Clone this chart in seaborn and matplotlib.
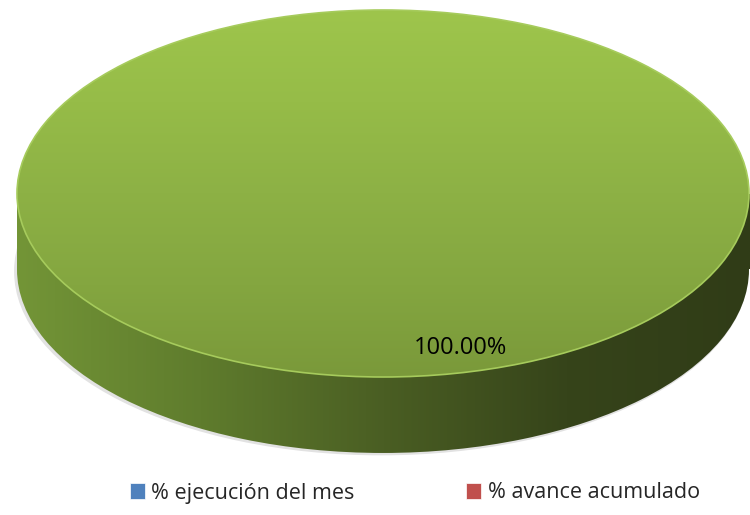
import numpy as np
import matplotlib.pyplot as plt
import seaborn as sns
from matplotlib.colors import LinearSegmentedColormap
from matplotlib.patches import Patch, Rectangle

# Data
labels = ['% ejecución del mes', '% avance acumulado']
values = [0.0, 100.0]
legend_colors = ['#4f81bd', '#c0504d']

sns.set_style('white')
plt.rcParams['font.family'] = ['Open Sans', 'DejaVu Sans']

fig = plt.figure(figsize=(7.5, 5.15), dpi=100)
ax = fig.add_axes([0, 0, 1, 1])

depth = 0.414          # thickness of the 3D disc (in radius units)
start = 104.2          # rotates the label towards lower right like the original

top_cmap = LinearSegmentedColormap.from_list(
    'top', ['#9ec54c', '#96bc48', '#8db145', '#84a640', '#7a993a'])
side_cmap = LinearSegmentedColormap.from_list(
    'side', ['#739537', '#5f7c2d', '#4a5e23', '#36441a', '#303c17'])


def fmt(p):
    return f'{p:.2f}%' if p > 0 else ''


# soft shadow
shadow, _ = ax.pie(values, center=(-0.005, -depth - 0.01), radius=1.003, startangle=start,
                   counterclock=False, colors=['#e2e2e2'] * len(values),
                   wedgeprops=dict(linewidth=0, zorder=0))

# side of the disc
side_wedges, _ = ax.pie(values, center=(0, -depth), startangle=start, counterclock=False,
                        colors=['none'] * len(values), wedgeprops=dict(linewidth=0, zorder=1))
hgrad = np.linspace(0, 1, 256).reshape(1, -1)
for w, v in zip(side_wedges, values):
    if v <= 0:
        continue
    im = ax.imshow(hgrad, cmap=side_cmap, extent=[-1, 1, -1 - depth, 0], aspect='auto', zorder=1)
    im.set_clip_path(w)
    rect = Rectangle((-1, -depth), 2, depth, facecolor='none', linewidth=0)
    ax.add_patch(rect)
    im2 = ax.imshow(hgrad, cmap=side_cmap, extent=[-1, 1, -1 - depth, 0], aspect='auto', zorder=1)
    im2.set_clip_path(rect)

# top face
top_wedges, texts, autotexts = ax.pie(
    values, startangle=start, counterclock=False, colors=['none'] * len(values),
    autopct=fmt, pctdistance=0.867,
    wedgeprops=dict(linewidth=0, zorder=4),
    textprops=dict(fontsize=17, color='black', zorder=5))
vgrad = np.linspace(0, 1, 256).reshape(-1, 1)
for w, v in zip(top_wedges, values):
    if v <= 0:
        continue
    w.set_edgecolor('#a6cb5c')
    w.set_linewidth(1.2)
    im = ax.imshow(vgrad, cmap=top_cmap, extent=[-1, 1, -1, 1], origin='upper',
                   aspect='auto', zorder=3)
    im.set_clip_path(w)

ax.set_aspect('auto')
ax.set_xlim(-383 / 366, (750 - 383) / 366)
ax.set_ylim((193.5 - 515) / 183.5, 193.5 / 183.5)
ax.axis('off')

handles = [Patch(facecolor=c, edgecolor='white', linewidth=0.5) for c in legend_colors]
fig.legend(handles, labels, loc='center', bbox_to_anchor=(0.553, 22 / 515), ncol=2,
           frameon=False, fontsize=15.5, handlelength=0.7, handleheight=0.7,
           handletextpad=0.3, columnspacing=5.2)

fig.savefig('out.png', dpi=100)
